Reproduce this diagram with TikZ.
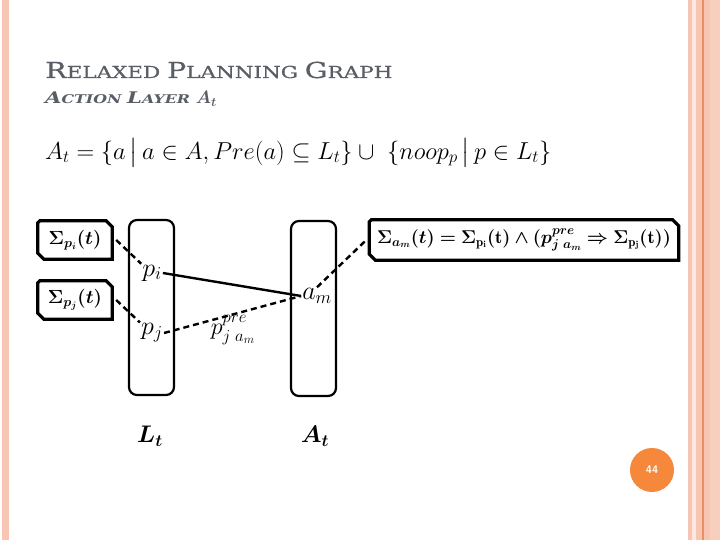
\RequirePackage{fix-cm}
\documentclass[tikz,border=0pt]{standalone}
\usepackage{amsmath}
\usepackage{amssymb}
\usepackage{bm}
\usepackage{fontspec}
\usepackage{tikz}
\usepackage{xcolor}
\usetikzlibrary{positioning}

\newfontfamily\titlefont[FakeStretch=1.32]{DejaVu Serif}
\newfontfamily\headfont[FakeStretch=1.30, FakeBold=0.6]{DejaVu Serif}

\definecolor{titlegray}{HTML}{595E66}
\definecolor{stripe}{HTML}{F7C5B2}
\definecolor{stripedark}{HTML}{E8905F}
\definecolor{pageorange}{HTML}{F5883A}

% chamfered frame round a node
\newcommand{\snipframe}[1]{%
  \draw[snip] ([xshift=2pt]#1.north west) -- ([xshift=-6pt]#1.north east)
    -- ([yshift=-6pt]#1.north east) -- (#1.south east)
    -- ([xshift=6pt]#1.south west) -- ([yshift=6pt]#1.south west)
    -- ([yshift=-2pt]#1.north west) -- cycle;}

\begin{document}
\begin{tikzpicture}[x=1pt, y=-1pt,
        layer/.style={rectangle, rounded corners=8pt, draw=black, line width=2.2pt, minimum width=45pt, minimum height=175pt},
        sigbox/.style={rectangle, inner sep=0pt, minimum height=38pt, font=\fontsize{19}{22}\selectfont},
        snip/.style={line width=3.2pt, line join=miter},
        lit/.style={font=\fontsize{26}{30}\selectfont, inner sep=1pt},
        link/.style={line width=2.4pt},
        dlink/.style={line width=2.4pt, dash pattern=on 6pt off 4pt}
    ]
        \useasboundingbox (0,0) rectangle (720,540);
        \fill[white] (0,0) rectangle (720,540);

        % Slide decoration
        \fill[stripe] (2,0) rectangle (9,540);
        \fill[stripe] (688,0) rectangle (692,540);
        \fill[stripe!40] (692,0) rectangle (696,540);
        \fill[stripe] (696,0) rectangle (702,540);
        \fill[stripedark] (702,0) rectangle (703.5,540);
        \fill[stripe] (703.5,0) rectangle (710,540);
        \fill[stripe!85] (710,0) rectangle (720,540);

        % Title
        \node[anchor=base west, inner sep=0pt, text=titlegray] (title) at (45,78)
            {\headfont\fontsize{22}{26}\selectfont R\fontsize{16.5}{20}\selectfont ELAXED
             \fontsize{22}{26}\selectfont P\fontsize{16.5}{20}\selectfont LANNING
             \fontsize{22}{26}\selectfont G\fontsize{16.5}{20}\selectfont RAPH};
        \node[anchor=base west, inner sep=0pt, text=titlegray] (subtitle) at (45,104)
            {\titlefont\bfseries\itshape\fontsize{16}{19}\selectfont A\fontsize{12}{15}\selectfont CTION
             \fontsize{16}{19}\selectfont L\fontsize{12}{15}\selectfont AYER
             \fontsize{18}{20}\selectfont $\bm{A_t}$};

        % Definition
        \node[anchor=west, inner sep=0pt, font=\fontsize{24.5}{29}\selectfont] (defn) at (45,153)
            {$A_t = \{a \,\big|\, a \in A, Pre(a) \subseteq L_t\} \cup\ \{noop_p \,\big|\, p \in L_t\}$};

        % Layers
        \node[layer] (Lbox) at (151.5,307.5) {};
        \node[layer] (Abox) at (313.5,308.5) {};
        \node[font=\fontsize{24}{28}\selectfont] (Llab) at (150,436) {$\bm{L_t}$};
        \node[font=\fontsize{24}{28}\selectfont] (Alab) at (315,436) {$\bm{A_t}$};

        % Literals and action
        \node[lit] (pi) at (152,273) {$p_i$};
        \node[lit] (pj) at (152,333) {$p_j$};
        \node[lit] (am) at (317,296) {$a_m$};
        \node[lit, font=\fontsize{24}{28}\selectfont] (pre) at (233,330) {$p^{pre}_{j\;a_m}$};

        % Sigma boxes
        \node[sigbox, minimum width=74pt] (spi) at (75,240) {$\bm{\Sigma_{p_i}(t)}$};
        \node[sigbox, minimum width=74pt] (spj) at (75,300) {$\bm{\Sigma_{p_j}(t)}$};
        \node[sigbox, minimum width=309pt, minimum height=40pt, font=\fontsize{18.5}{21}\selectfont] (sam) at (524,240)
            {$\bm{\Sigma_{a_m}(t) = \Sigma_{\mathrm{p_i}}(\mathrm{t}) \wedge (p^{pre}_{j\;a_m} \Rightarrow \Sigma_{\mathrm{p_j}}(\mathrm{t}))}$};
        \snipframe{spi}
        \snipframe{spj}
        \snipframe{sam}

        % Connections
        \draw[link] (pi.east) -- (am.west);
        \draw[dlink] (pj.east) -- (am.west);
        \draw[dlink] ([xshift=4pt]spi.east) -- (pi.north west);
        \draw[dlink] ([xshift=4pt]spj.east) -- (pj.north west);
        \draw[dlink] (am.north) -- ([xshift=-3pt]sam.west);

        % Page number
        \node[circle, fill=pageorange, minimum size=44pt, inner sep=0pt, text=white,
              font=\sffamily\bfseries\fontsize{11}{13}\selectfont] (page) at (652,470) {44};
\end{tikzpicture}
\end{document}
